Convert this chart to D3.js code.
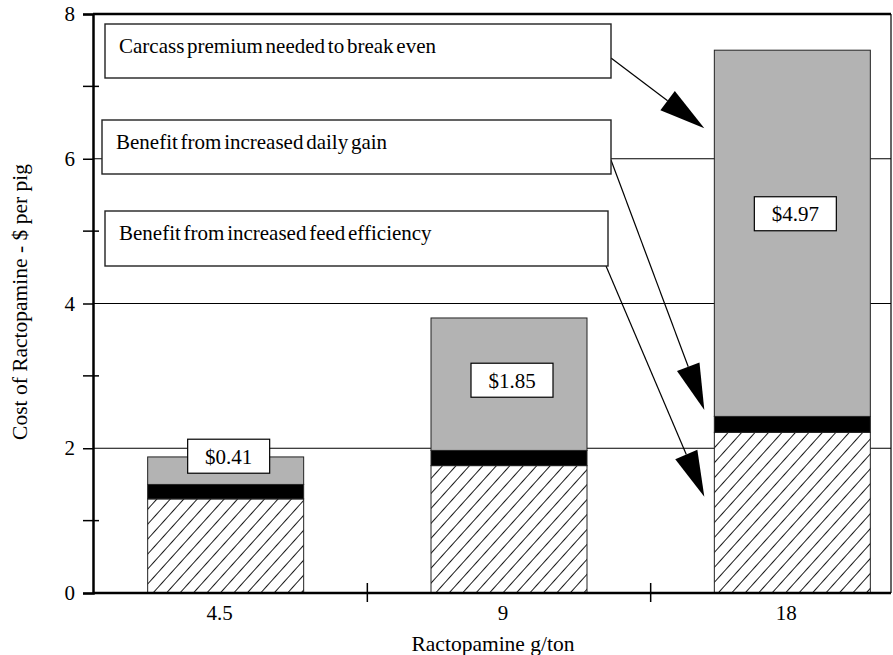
<!DOCTYPE html>
<html>
<head>
<meta charset="utf-8">
<script src="https://cdn.jsdelivr.net/npm/d3@7.9.0/dist/d3.min.js"></script>
<style>
  html, body { margin: 0; padding: 0; background: #fff; }
  svg { display: block; font-family: "Liberation Serif", "Times New Roman", serif; }
  text { fill: #000; }
</style>
</head>
<body>
<svg id="chart" width="893" height="655"></svg>
<script>
// data
const doses = ['4.5', '9', '18'];                 // Ractopamine g/ton
const feedEfficiency = [1.30, 1.76, 2.22];        // hatched segment
const dailyGain = [0.20, 0.21, 0.22];             // black segment
const carcassPremium = [0.38, 1.83, 5.06];        // grey segment
const premiumLabels = ['$0.41', '$1.85', '$4.97'];
const premiumLabelAt = [1.89, 2.94, 5.24];        // where the label box sits (y value)
const yTicks = [0, 2, 4, 6, 8];
const yMinorTicks = [1, 3, 5, 7];
const notes = [
  'Carcass premium needed to break even',
  'Benefit from increased daily gain',
  'Benefit from increased feed efficiency'
];
const noteTargets = [6.42, 2.53, 1.33];          // y value the arrow points at, on the 18 g/ton bar

const svg = d3.select('#chart');
const plotL = 93, plotR = 891, plotT = 14, plotB = 593;

const x = d3.scaleBand().domain(doses).range([84, 934]).padding(0);
const y = d3.scaleLinear().domain([0, 8]).range([plotB, plotT]);
const barW = 156;
const barX = d => x(d) + (x.bandwidth() - barW) / 2;

// hatch pattern
const defs = svg.append('defs');
defs.append('pattern')
  .attr('id', 'hatch')
  .attr('patternUnits', 'userSpaceOnUse')
  .attr('width', 10).attr('height', 10)
  .attr('patternTransform', 'rotate(42)')
  .call(p => {
    p.append('rect').attr('width', 10).attr('height', 10).attr('fill', '#fff');
    p.append('line').attr('x1', 0).attr('y1', 0).attr('x2', 0).attr('y2', 10)
      .attr('stroke', '#000').attr('stroke-width', 1.8);
  });

// gridlines
svg.append('g').selectAll('line')
  .data(yTicks.filter(t => t > 0 && t < 8))
  .join('line')
  .attr('x1', plotL).attr('x2', plotR)
  .attr('y1', d => y(d)).attr('y2', d => y(d))
  .attr('stroke', '#000').attr('stroke-width', 1);

// stacked bars
const stacks = doses.map((d, i) => {
  const a = feedEfficiency[i], b = a + dailyGain[i], c = b + carcassPremium[i];
  return { dose: d, segs: [
    { y0: 0, y1: a, fill: 'url(#hatch)' },
    { y0: a, y1: b, fill: '#000' },
    { y0: b, y1: c, fill: '#b3b3b3' }
  ] };
});

const barG = svg.append('g');
stacks.forEach(s => {
  barG.append('g').selectAll('rect')
    .data(s.segs)
    .join('rect')
    .attr('x', barX(s.dose))
    .attr('width', barW)
    .attr('y', d => y(d.y1))
    .attr('height', d => y(d.y0) - y(d.y1))
    .attr('fill', d => d.fill)
    .attr('stroke', '#222')
    .attr('stroke-width', 1);
});

// premium label boxes
const lab = svg.append('g').selectAll('g')
  .data(doses)
  .join('g')
  .attr('transform', (d, i) => `translate(${x(d) + x.bandwidth() / 2 + 3},${y(premiumLabelAt[i])})`);
lab.append('rect')
  .attr('x', -41).attr('y', -17).attr('width', 82).attr('height', 34)
  .attr('fill', '#fff').attr('stroke', '#000').attr('stroke-width', 1.2);
lab.append('text')
  .attr('text-anchor', 'middle').attr('dy', '0.35em')
  .style('font-size', '21px')
  .text((d, i) => premiumLabels[i]);

// axes frame
svg.append('line').attr('x1', plotL).attr('x2', plotR).attr('y1', plotT).attr('y2', plotT)
  .attr('stroke', '#000').attr('stroke-width', 2.5);
svg.append('line').attr('x1', plotR).attr('x2', plotR).attr('y1', plotT).attr('y2', plotB)
  .attr('stroke', '#000').attr('stroke-width', 1.2);

const yAxis = svg.append('g')
  .attr('transform', `translate(${plotL},0)`)
  .call(d3.axisLeft(y).tickValues(yTicks).tickSize(10).tickPadding(8).tickFormat(d3.format('d')));
yAxis.select('.domain').attr('stroke-width', 2.5);
yAxis.selectAll('.tick line').attr('stroke-width', 1.5);
yAxis.selectAll('.tick text').style('font-size', '21px').style('font-family', 'Liberation Serif');

svg.append('g').selectAll('line')
  .data(yMinorTicks)
  .join('line')
  .attr('x1', plotL - 10).attr('x2', plotL + 6)
  .attr('y1', d => y(d)).attr('y2', d => y(d))
  .attr('stroke', '#000').attr('stroke-width', 1.5);

const xAxis = svg.append('g')
  .attr('transform', `translate(0,${plotB})`)
  .call(d3.axisBottom(x).tickSize(0).tickPadding(12));
xAxis.select('.domain').remove();
xAxis.selectAll('.tick text').style('font-size', '21px').style('font-family', 'Liberation Serif')
  .attr('dx', -6);
svg.append('line').attr('x1', plotL).attr('x2', plotR).attr('y1', plotB).attr('y2', plotB)
  .attr('stroke', '#000').attr('stroke-width', 2.5);
svg.append('g').selectAll('line')
  .data(doses.slice(1))
  .join('line')
  .attr('x1', d => x(d)).attr('x2', d => x(d))
  .attr('y1', plotB - 10).attr('y2', plotB + 9)
  .attr('stroke', '#000').attr('stroke-width', 1.5);

// axis titles
svg.append('text')
  .attr('transform', 'translate(27,302) rotate(-90)')
  .attr('text-anchor', 'middle')
  .style('font-size', '21.5px')
  .text('Cost of Ractopamine - $ per pig');
svg.append('text')
  .attr('x', 493).attr('y', 651)
  .attr('text-anchor', 'middle')
  .style('font-size', '21.5px')
  .text('Ractopamine g/ton');

// annotation boxes and arrows
const noteBoxes = [
  { x: 105, y: 24, w: 506, h: 54, sx: 611, sy: 58 },
  { x: 102, y: 120, w: 509, h: 54, sx: 611, sy: 160 },
  { x: 105, y: 211, w: 503, h: 55, sx: 606, sy: 266 }
];
const tipX = barX(doses[2]) - 10;
const noteG = svg.append('g');
notes.forEach((t, i) => {
  const b = noteBoxes[i];
  const tx = tipX, ty = y(noteTargets[i]);
  const dx = tx - b.sx, dy = ty - b.sy, len = Math.hypot(dx, dy);
  const ux = dx / len, uy = dy / len;
  const headLen = 46, headW = 12;
  const bx = tx - ux * headLen, by = ty - uy * headLen;
  noteG.append('line')
    .attr('x1', b.sx).attr('y1', b.sy).attr('x2', bx).attr('y2', by)
    .attr('stroke', '#000').attr('stroke-width', 1.2);
  noteG.append('path')
    .attr('d', d3.line()([[tx, ty], [bx - uy * headW, by + ux * headW], [bx + uy * headW, by - ux * headW]]) + 'Z')
    .attr('fill', '#000');
  noteG.append('rect')
    .attr('x', b.x).attr('y', b.y).attr('width', b.w).attr('height', b.h)
    .attr('fill', '#fff').attr('stroke', '#222').attr('stroke-width', 1.4);
  noteG.append('text')
    .attr('x', b.x + 14).attr('y', b.y + 29)
    .style('font-size', '21px')
    .style('word-spacing', '-2.5px')
    .text(t);
});
</script>
</body>
</html>
